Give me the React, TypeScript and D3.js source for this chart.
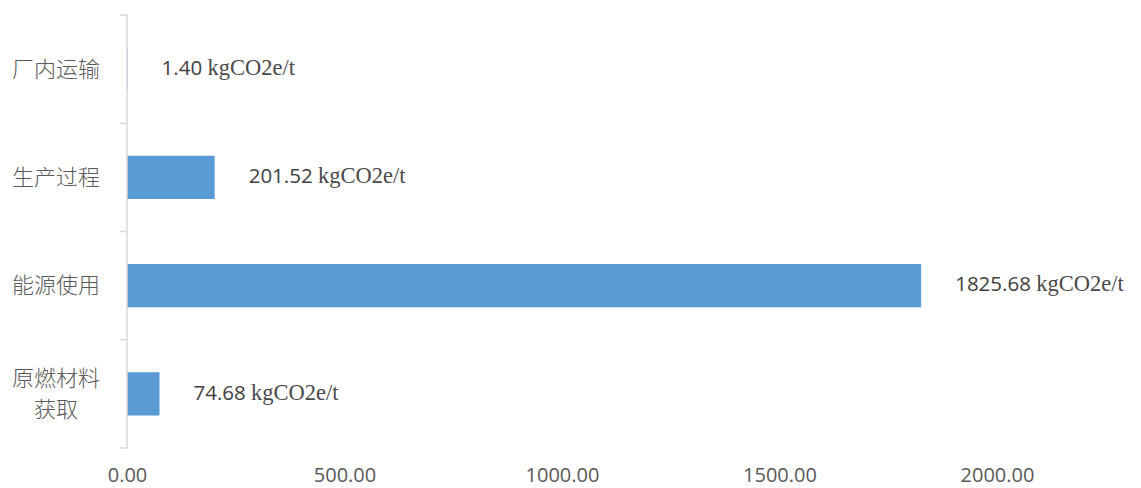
import React, { useEffect, useRef } from 'react';
import * as d3 from 'd3';

// categories top to bottom, values in kgCO2e/t
const categories = ['厂内运输', '生产过程', '能源使用', '原燃材料获取'];
const values = [1.4, 201.52, 1825.68, 74.68];
const xTicks = [0, 500, 1000, 1500, 2000];
const unit = 'kgCO2e/t';

const width = 1141;
const height = 488;
const barColor = '#5B9BD5';

const App = () => {
  const svgRef = useRef<SVGSVGElement>(null);

  useEffect(() => {
    const svg = d3.select(svgRef.current);
    svg.selectAll('*').remove();

    const x = d3.scaleLinear().domain([0, 2000]).range([127, 997]);
    const y = d3.scaleBand<string>()
      .domain(categories)
      .range([15, 448])
      .paddingInner(0.6)
      .paddingOuter(0.3);

    const data = categories.map((c, i) => ({ cat: c, value: values[i] }));

    // bars
    svg.selectAll('.bar')
      .data(data)
      .enter()
      .append('rect')
      .attr('class', 'bar')
      .attr('x', x(0))
      .attr('y', d => y(d.cat)!)
      .attr('width', d => x(d.value) - x(0))
      .attr('height', y.bandwidth())
      .style('fill', barColor);

    // left axis line + ticks on the band boundaries
    const [r0, r1] = y.range();
    const gap = (y.step() * y.paddingInner()) / 2;
    const bounds = categories.map(c => y(c)! - gap).concat([r1]);
    bounds[0] = r0;
    const axis = svg.append('g').attr('stroke', '#D9D9D9').attr('stroke-width', 1.5);
    axis.append('line')
      .attr('x1', x(0)).attr('x2', x(0))
      .attr('y1', r0).attr('y2', r1);
    axis.selectAll('.tick')
      .data(bounds)
      .enter()
      .append('line')
      .attr('x1', x(0) - 7).attr('x2', x(0))
      .attr('y1', d => d).attr('y2', d => d);

    // category labels
    const catLabel = svg.selectAll('.cat')
      .data(data)
      .enter()
      .append('text')
      .attr('class', 'cat')
      .attr('x', 56)
      .attr('text-anchor', 'middle')
      .attr('fill', '#595959')
      .style('font-family', '"Noto Sans CJK SC", sans-serif')
      .style('font-weight', 300)
      .style('font-size', '22px');

    catLabel.each(function (d) {
      const cy = y(d.cat)! + y.bandwidth() / 2;
      const lines = d.cat.length > 4 ? [d.cat.slice(0, 4), d.cat.slice(4)] : [d.cat];
      const lh = 31;
      const t = d3.select(this);
      lines.forEach((ln, i) => {
        t.append('tspan')
          .attr('x', 56)
          .attr('y', cy + (i - (lines.length - 1) / 2) * lh)
          .attr('dy', '0.35em')
          .text(ln);
      });
    });

    // value labels
    const vl = svg.selectAll('.val')
      .data(data)
      .enter()
      .append('text')
      .attr('class', 'val')
      .attr('x', d => x(d.value) + 34)
      .attr('y', d => y(d.cat)! + y.bandwidth() / 2)
      .attr('dy', '0.36em');
    vl.append('tspan')
      .attr('fill', '#404040')
      .style('font-family', '"Open Sans", sans-serif')
      .style('font-size', '20.5px')
      .text(d => d.value.toFixed(2) + ' ');
    vl.append('tspan')
      .attr('fill', '#4a4a4a')
      .style('font-family', '"Liberation Serif", serif')
      .style('font-size', '22.5px')
      .text(unit);

    // x axis labels only
    const xAxis = svg.append('g')
      .attr('transform', 'translate(0,459)')
      .call(d3.axisBottom(x).tickValues(xTicks).tickFormat(d3.format('.2f')).tickSize(0).tickPadding(9));
    xAxis.select('.domain').remove();
    xAxis.selectAll('text')
      .attr('fill', '#595959')
      .style('font-family', '"Open Sans", sans-serif')
      .style('font-size', '20px');
  }, []);

  return (
    <div className="chart">
      <svg
        ref={svgRef}
        width={width}
        height={height}
        style={{ position: 'absolute', left: 0, top: 0, background: '#fff' }}
      ></svg>
    </div>
  );
};

export default App;
